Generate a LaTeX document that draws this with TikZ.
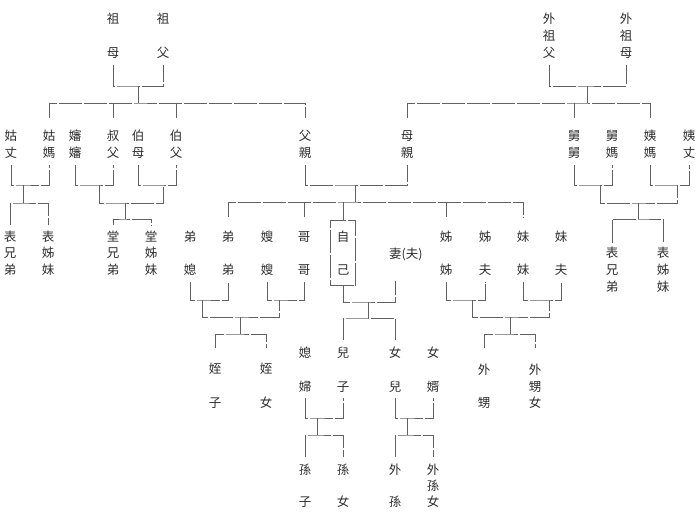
\documentclass[tikz,border=0pt]{standalone}
\usepackage{fontspec}
\newfontfamily\cjk{Noto Sans CJK TC}
\usetikzlibrary{fit}
\tikzset{
  lbl/.style={font=\cjk\fontsize{12.5}{14}\selectfont, inner sep=0pt, text=black!82},
  ln/.style={draw=black!62, line width=0.9pt, dash pattern=on 23pt off 2pt},
}
\newcommand{\lab}[3]{\foreach \yy/\ch [count=\i] in {#3} {\node[lbl] (#1-\i) at (#2,\yy) {\ch};}}
\begin{document}
\begin{tikzpicture}[x=1pt,y=-1pt]
\fill[white] (0,0) rectangle (700,529);
\useasboundingbox (0,0) rectangle (700,529);
% grandparents
\lab{zm}{113}{19/祖,53/母}
\lab{zf}{163}{19/祖,53/父}
\lab{wzf}{549}{19/外,36/祖,53/父}
\lab{wzm}{626}{19/外,36/祖,53/母}
% parents generation
\lab{guzhang}{11}{136/姑,153/丈}
\lab{guma}{49}{136/姑,153/媽}
\lab{shenshen}{75}{136/嬸,153/嬸}
\lab{shufu}{113}{136/叔,153/父}
\lab{bomu}{138}{136/伯,153/母}
\lab{bofu}{176}{136/伯,153/父}
\lab{fuqin}{305}{136/父,153/親}
\lab{muqin}{407}{136/母,153/親}
\lab{jiujiu}{574}{136/舅,153/舅}
\lab{jiuma}{612}{136/舅,153/媽}
\lab{yima}{650}{136/姨,153/媽}
\lab{yizhang}{689}{136/姨,153/丈}
% own generation
\lab{biaoa}{10}{237/表,253/兄,270/弟}
\lab{biaob}{48}{237/表,253/姊,270/妹}
\lab{tanga}{113}{237/堂,253/兄,270/弟}
\lab{tangb}{151}{237/堂,253/姊,270/妹}
\lab{dixi}{190}{237/弟,270/媳}
\lab{didi}{228}{237/弟,270/弟}
\lab{saosao}{267}{237/嫂,270/嫂}
\lab{gege}{304}{237/哥,270/哥}
\lab{ziji}{343}{237/自,270/己}
\node[lbl, anchor=west] (qi) at (389,254) {妻(夫)};
\lab{jiejie}{446}{237/姊,270/姊}
\lab{jiefu}{485}{237/姊,270/夫}
\lab{meimei}{523}{237/妹,270/妹}
\lab{meifu}{561}{237/妹,270/夫}
\lab{biaoc}{612}{253/表,270/兄,287/弟}
\lab{biaod}{663}{253/表,270/姊,287/妹}
% children
\lab{zhizi}{215}{369/姪,403/子}
\lab{zhinv}{266}{369/姪,403/女}
\lab{xifu}{305}{353/媳,387/婦}
\lab{erzi}{343}{353/兒,387/子}
\lab{nuer}{395}{353/女,387/兒}
\lab{nuxu}{433}{353/女,387/婿}
\lab{waisheng}{484}{370/外,403/甥}
\lab{waishengnv}{535}{370/外,387/甥,403/女}
% grandchildren
\lab{sunzi}{305}{470/孫,502/子}
\lab{sunnv}{343}{470/孫,502/女}
\lab{waisun}{395}{470/外,502/孫}
\lab{waisunnv}{433}{470/外,486/孫,502/女}
% self box
\node[ln, fit=(ziji-1)(ziji-2), inner xsep=6pt, inner ysep=10.5pt] (zbox) {};
% junctions
\coordinate (gpJ) at (138,86);  \coordinate (gpK) at (138,103);
\coordinate (mgJ) at (587,86);  \coordinate (mgK) at (587,103);
\coordinate (gzJ) at (23,185);  \coordinate (gzK) at (23,203);
\coordinate (shJ) at (99,185);  \coordinate (boJ) at (163,185);
\coordinate (tangJ) at (125,203); \coordinate (tangK) at (125,219);
\coordinate (fmJ) at (355,185); \coordinate (fmK) at (355,202);
\coordinate (jiuJ) at (600,185); \coordinate (yiJ) at (677,185);
\coordinate (mbJ) at (638,203); \coordinate (mbK) at (638,219);
\coordinate (diJ) at (202,300); \coordinate (saoJ) at (279,300);
\coordinate (zhJ) at (240,317); \coordinate (zhK) at (240,334);
\coordinate (zqJ) at (368,302); \coordinate (zqK) at (368,318);
\coordinate (jieJ) at (472,300); \coordinate (meiJ) at (549,300);
\coordinate (wsJ) at (510,317); \coordinate (wsK) at (510,334);
\coordinate (xfJ) at (317,418); \coordinate (xfK) at (317,435);
\coordinate (nxJ) at (407,418); \coordinate (nxK) at (407,435);
% paternal grandparents
\draw[ln] ([yshift=-6pt]zm-2.south) |- (gpJ) -| ([yshift=-6pt]zf-2.south);
\draw[ln] (gpJ) -- (gpK);
\draw[ln] ([yshift=12pt]guma-1.north) |- (gpK) -| ([yshift=12pt]fuqin-1.north);
\draw[ln] ([yshift=12pt]shufu-1.north) -- (shufu-1 |- gpK);
\draw[ln] ([yshift=12pt]bofu-1.north) -- (bofu-1 |- gpK);
% maternal grandparents
\draw[ln] ([yshift=-6pt]wzf-3.south) |- (mgJ) -| ([yshift=-6pt]wzm-3.south);
\draw[ln] (mgJ) -- (mgK);
\draw[ln] ([yshift=12pt]muqin-1.north) |- (mgK) -| ([yshift=12pt]yima-1.north);
\draw[ln] ([yshift=12pt]jiujiu-1.north) -- (jiujiu-1 |- mgK);
% aunts and uncles
\draw[ln] ([yshift=-6pt]guzhang-2.south) |- (gzJ) -| ([yshift=-6pt]guma-2.south);
\draw[ln] (gzJ) -- (gzK);
\draw[ln] ([yshift=6pt]biaoa-1.north) |- (gzK) -| ([yshift=6pt]biaob-1.north);
\draw[ln] ([yshift=-6pt]shenshen-2.south) |- (shJ) -| ([yshift=-6pt]shufu-2.south);
\draw[ln] ([yshift=-6pt]bomu-2.south) |- (boJ) -| ([yshift=-6pt]bofu-2.south);
\draw[ln] (shJ) |- (tangJ) -| (boJ);
\draw[ln] (tangJ) -- (tangK);
\draw[ln] ([yshift=6pt]tanga-1.north) |- (tangK) -| ([yshift=6pt]tangb-1.north);
\draw[ln] ([yshift=-6pt]jiujiu-2.south) |- (jiuJ) -| ([yshift=-6pt]jiuma-2.south);
\draw[ln] ([yshift=-6pt]yima-2.south) |- (yiJ) -| ([yshift=-6pt]yizhang-2.south);
\draw[ln] (jiuJ) |- (mbJ) -| (yiJ);
\draw[ln] (mbJ) -- (mbK);
\draw[ln] ([yshift=4pt]biaoc-1.north) |- (mbK) -| ([yshift=4pt]biaod-1.north);
% parents
\draw[ln] ([yshift=-6pt]fuqin-2.south) |- (fmJ) -| ([yshift=-6pt]muqin-2.south);
\draw[ln] (fmJ) -- (fmK);
\draw[ln] ([yshift=14pt]didi-1.north) |- (fmK) -| ([yshift=14pt]meimei-1.north);
\draw[ln] ([yshift=14pt]gege-1.north) -- (gege-1 |- fmK);
\draw[ln] (zbox.north) -- (zbox.north |- fmK);
\draw[ln] ([yshift=14pt]jiejie-1.north) -- (jiejie-1 |- fmK);
% siblings
\draw[ln] ([yshift=-6pt]dixi-2.south) |- (diJ) -| ([yshift=-6pt]didi-2.south);
\draw[ln] ([yshift=-6pt]saosao-2.south) |- (saoJ) -| ([yshift=-6pt]gege-2.south);
\draw[ln] (diJ) |- (zhJ) -| (saoJ);
\draw[ln] (zhJ) -- (zhK);
\draw[ln] ([yshift=15pt]zhizi-1.north) |- (zhK) -| ([yshift=15pt]zhinv-1.north);
\draw[ln] ([yshift=-6pt]jiejie-2.south) |- (jieJ) -| ([yshift=-6pt]jiefu-2.south);
\draw[ln] ([yshift=-6pt]meimei-2.south) |- (meiJ) -| ([yshift=-6pt]meifu-2.south);
\draw[ln] (jieJ) |- (wsJ) -| (meiJ);
\draw[ln] (wsJ) -- (wsK);
\draw[ln] ([yshift=16pt]waisheng-1.north) |- (wsK) -| ([yshift=16pt]waishengnv-1.north);
% self and spouse
\draw[ln] (zbox.south) |- (zqJ) -| ([xshift=6pt,yshift=-20pt]qi.south west);
\draw[ln] (zqJ) -- (zqK);
\draw[ln] ([yshift=7pt]erzi-1.north) |- (zqK) -| ([yshift=7pt]nuer-1.north);
% children
\draw[ln] ([yshift=-5pt]xifu-2.south) |- (xfJ) -| ([yshift=-5pt]erzi-2.south);
\draw[ln] (xfJ) -- (xfK);
\draw[ln] ([yshift=7pt]sunzi-1.north) |- (xfK) -| ([yshift=7pt]sunnv-1.north);
\draw[ln] ([yshift=-5pt]nuer-2.south) |- (nxJ) -| ([yshift=-5pt]nuxu-2.south);
\draw[ln] (nxJ) -- (nxK);
\draw[ln] ([yshift=7pt]waisun-1.north) |- (nxK) -| ([yshift=7pt]waisunnv-1.north);
\end{tikzpicture}
\end{document}
